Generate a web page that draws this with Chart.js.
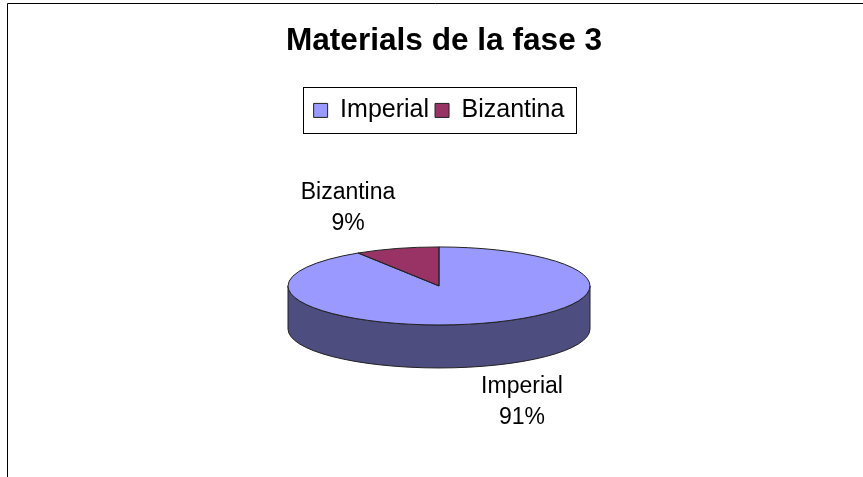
<!DOCTYPE html>
<html>
<head>
<meta charset="utf-8">
<style>html,body{margin:0;padding:0;background:#fff}canvas{display:block}</style>
<script src="https://cdn.jsdelivr.net/npm/chart.js@4"></script>
</head>
<body>
<canvas id="c" width="863" height="477"></canvas>
<script>
const titleText = 'Materials de la fase 3';
const categories = ['Imperial', 'Bizantina'];
const values = [91, 9];
const percentLabels = ['91%', '9%'];
const sliceColors = ['#9999FF', '#993366'];
const sideColors = ['#4D4D80', '#4D1A33'];

const FONT = '"Liberation Sans", Arial, sans-serif';
const FLAT = 39 / 151;   // vertical squash of the tilted disc
const DEPTH = 43;        // height of the disc wall
const LABEL_POS = [{dx: 83, dy: 116}, {dx: -91, dy: -78}]; // label offset from the pie centre

function flatten(ctx, arc) {
  ctx.translate(arc.x, arc.y);
  ctx.scale(1, FLAT);
  ctx.translate(-arc.x, -arc.y);
}

const tilted = {
  id: 'tilted',
  beforeDraw(chart) {
    const {ctx, width, height} = chart;
    ctx.save();
    ctx.fillStyle = '#fff';
    ctx.fillRect(0, 0, width, height);
    ctx.strokeStyle = '#000';
    ctx.lineWidth = 1;
    ctx.beginPath();
    ctx.moveTo(7.5, height);
    ctx.lineTo(7.5, 3.5);
    ctx.lineTo(width, 3.5);
    ctx.stroke();
    ctx.restore();
  },
  beforeDatasetsDraw(chart) {
    const {ctx} = chart;
    const arcs = chart.getDatasetMeta(0).data;
    // legend frame
    const boxes = chart.legend.legendHitBoxes;
    const l = Math.min(...boxes.map(b => b.left)) - 11;
    const r = Math.max(...boxes.map(b => b.left + b.width)) + 11;
    const t = boxes[0].top - 11;
    const b = boxes[0].top + boxes[0].height + 10;
    ctx.save();
    ctx.strokeStyle = '#000';
    ctx.lineWidth = 1;
    ctx.strokeRect(Math.round(l) + .5, Math.round(t) + .5, Math.round(r - l), Math.round(b - t));
    ctx.restore();
    // wall of the disc: the visible front half of every slice
    arcs.forEach((arc, i) => {
      const p = arc.getProps(['x', 'y', 'startAngle', 'endAngle', 'outerRadius'], true);
      const a0 = Math.max(p.startAngle, 0);
      const a1 = Math.min(p.endAngle, Math.PI);
      if (a1 <= a0) return;
      const ry = p.outerRadius * FLAT;
      ctx.save();
      ctx.beginPath();
      ctx.ellipse(p.x, p.y, p.outerRadius, ry, 0, a0, a1);
      ctx.ellipse(p.x, p.y + DEPTH, p.outerRadius, ry, 0, a1, a0, true);
      ctx.closePath();
      ctx.fillStyle = sideColors[i];
      ctx.strokeStyle = '#222';
      ctx.lineWidth = 1;
      ctx.fill();
      ctx.stroke();
      ctx.restore();
    });
    ctx.save();
    flatten(ctx, arcs[0]);
  },
  afterDatasetsDraw(chart) {
    const {ctx} = chart;
    ctx.restore();
    const arcs = chart.getDatasetMeta(0).data;
    arcs.forEach((arc, i) => {
      const p = arc.getProps(['x', 'y', 'startAngle', 'endAngle', 'outerRadius'], true);
      ctx.save();
      ctx.beginPath();
      ctx.ellipse(p.x, p.y, p.outerRadius, p.outerRadius * FLAT, 0, p.startAngle, p.endAngle);
      ctx.lineTo(p.x, p.y);
      ctx.closePath();
      ctx.strokeStyle = '#222';
      ctx.lineWidth = 1;
      ctx.stroke();
      ctx.restore();
      ctx.save();
      ctx.fillStyle = '#000';
      ctx.font = '23px ' + FONT;
      ctx.textAlign = 'center';
      ctx.textBaseline = 'middle';
      const x = p.x + LABEL_POS[i].dx, y = p.y + LABEL_POS[i].dy;
      ctx.fillText(categories[i], x, y - 15);
      ctx.fillText(percentLabels[i], x, y + 16);
      ctx.restore();
    });
  },
  afterLayout(chart) {
    chart.titleBlock.left += 5;
    chart.titleBlock.right += 5;
  }
};

new Chart(document.getElementById('c'), {
  type: 'pie',
  data: {
    labels: categories,
    datasets: [{
      data: values,
      backgroundColor: sliceColors,
      borderWidth: 0,
      clip: false
    }]
  },
  plugins: [tilted],
  options: {
    responsive: false,
    animation: false,
    radius: 151,
    layout: {padding: {left: 15, right: 0, top: 0, bottom: 38}},
    plugins: {
      tooltip: {enabled: false},
      title: {
        display: true,
        text: titleText,
        color: '#000',
        font: {family: FONT, size: 31.6, weight: 'bold'},
        padding: {top: 22, bottom: 32}
      },
      legend: {
        position: 'top',
        labels: {
          color: '#000',
          font: {family: FONT, size: 25},
          boxWidth: 14,
          boxHeight: 14,
          padding: 6,
          generateLabels(chart) {
            return Chart.overrides.pie.plugins.legend.labels.generateLabels(chart)
              .map(item => ({...item, lineWidth: 1, strokeStyle: '#222'}));
          }
        }
      }
    }
  }
});
</script>
</body>
</html>
